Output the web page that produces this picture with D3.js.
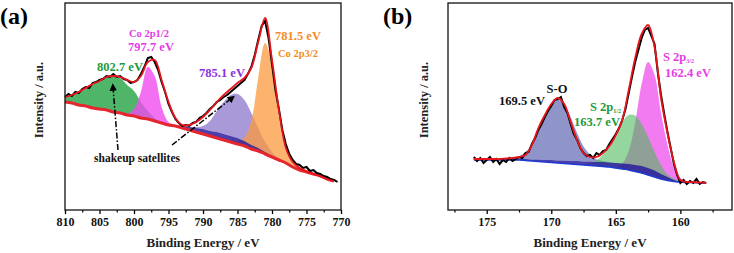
<!DOCTYPE html>
<html>
<head>
<meta charset="utf-8">
<script src="https://cdn.jsdelivr.net/npm/d3@7"></script>
<style>
  body { margin: 0; background: #fff; }
  text { font-family: "Liberation Serif", "Times New Roman", serif; font-weight: bold; }
</style>
</head>
<body>
<svg id="chart" width="734" height="253"></svg>
<script>
// ---------- panel (a) : Co 2p ----------
const energyA = d3.range(810, 770.5, -1);          // fit grid, eV
const bgA      = [108,107,105,104,102,101,100,98,97,95, 94,92,91,89,87,85,84,82,80,78, 76,74,72,70,68,66,64,61,59,56, 53,50,47,43,40,38,36,34,31,29];
const bandA    = [108,107,105,104,102,101,100,98,97,95, 94,92,91,89,87,85,85,84,83,82, 81,79,78,76,74,72,69,65,62,58, 54,50,47,43,40,38,36,34,31,29];
const greenA   = [5,8,12,17,23,29,34,36,35,30, 25,16,8,3,1,0,0,0,0,0, 0,0,0,0,0,0,0,0,0,0, 0,0,0,0,0,0,0,0,0,0];
const magentaA = [0,0,0,0,0,0,0,0,0,1, 7,26,52,45,16,3,1,0,0,0, 0,0,0,0,0,0,0,0,0,0, 0,0,0,0,0,0,0,0,0,0];
const purpleA  = [0,0,0,0,0,0,0,0,0,0, 0,0,0,0,0,0,0,0,0,1, 3,10,21,32,41,44,41,32,20,10, 4,1,0,0,0,0,0,0,0,0];
const orangeA  = [0,0,0,0,0,0,0,0,0,0, 0,0,0,0,0,0,0,0,0,0, 0,0,0,0,2,3,8,28,73,111, 93,43,12,4,1,0,0,0,0,0];
const envA     = [113,115,118,122,126,129,133,134,133,130, 128,134,148,150,130,108,92,85,85,88, 93,100,108,115,121,127,132,142,168,192, 150,100,62,48,42,39,36,34,31,29];
const dataEnergyA = d3.range(810, 770.25, -0.5);
const dataA = [113,116,114,118,117,121,123,122,127,128, 130,131,134,133,136,133,134,131,130,127,
               128,130,136,143,152,153,148,140,128,118, 106,98,91,87,84,85,84,87,88,92,
               94,97,101,104,108,110,113,115,118,121, 124,127,130,136,143,155,170,184,189,172,
               146,120,101,80,66,56,50,46,45,42, 43,39,40,37,36,34,33,31,30,28];
const ticksA = [810, 805, 800, 795, 790, 785, 780, 775, 770];
const minorA = [807.5, 802.5, 797.5, 792.5, 787.5, 782.5, 777.5, 772.5];

// ---------- panel (b) : S 2p ----------
const energyB = d3.range(176, 157.75, -0.5);
const bgB      = [50,50,50,50,50,50,50,50,49.5,49,48.5,48,47.5,47,46.5,46,45.5,45,44.5,44,43.5,43,42,41,40,38.5,37,35,33,31,29.5,28.5,28,27.5,27.5,27,27];
const bandB    = [51,51,51,51,51,51,51,51,51,50.5,50.5,50,50,49.5,49.5,49,49,48.5,48.5,48,48,47.5,47,46.5,46,45,44,42,39.5,36,33,30,28.5,28,27.5,27,27];
const soB      = [0,0,0,0,0,0.3,0.9,2.7,7,15,28,44,56,61,56,44,28,15,7,2.7,0.9,0.3,0,0,0,0,0,0,0,0,0,0,0,0,0,0,0];
const greenB   = [0,0,0,0,0,0,0,0,0,0,0,0,0,0,0,0,0.2,0.8,2.3,5.6,12,22,35,47,55,56,49,38,25,14,6,3,1,0.3,0,0,0];
const magentaB = [0,0,0,0,0,0,0,0,0,0,0,0,0,0,0,0,0,0,0,0,0,0,1,5.5,19,49,89,113,102,66,36,14,4,1,0,0,0];
const envB     = [51,51,51,51,51,51.5,52,53,55,65,82,95,106,112,106,88,70,57,53,53,57,64,75,90,120,152,176,185,163,112,77,48,30,28,28,27.5,27];
const dataEnergyB = d3.range(176, 157.9, -0.25);
const dataB = [53,49,52,47,50,53,48,51,46,50, 48,52,49,51,53,52,57,58,66,72,
               80,86,93,99,104,110,111,113,103,97, 86,76,70,62,57,54,55,52,57,55,
               59,60,66,71,76,82,90,101,117,133, 148,160,172,180,182,174,166,138,115,96,
               78,62,46,35,27,30,26,29,27,31, 26,28,27];
const ticksB = [175, 170, 165, 160];
const minorB = [177.5, 172.5, 167.5, 162.5, 157.5];

const svg = d3.select("#chart");
const plotTop = 3, plotBottom = 210;

function frame(x0, x1, domain, ticks, minor) {
    const x = d3.scaleLinear().domain(domain).range([x0, x1]);
    const y = d3.scaleLinear().domain([0, 207]).range([plotBottom, plotTop]);
    const ax = svg.append("g").attr("transform", `translate(0,${plotBottom})`)
        .call(d3.axisBottom(x).tickValues(ticks).tickSize(4).tickPadding(3).tickSizeOuter(0));
    ax.select(".domain").remove();
    ax.selectAll("line").attr("stroke-width", 1.3);
    ax.selectAll("text").style("font-size", "12px").attr("fill", "#111");
    const mx = svg.append("g").attr("transform", `translate(0,${plotBottom})`)
        .call(d3.axisBottom(x).tickValues(minor).tickSize(2.5).tickFormat(""));
    mx.select(".domain").remove();
    mx.selectAll("line").attr("stroke-width", 1.2);
    return { x, y };
}

function marks(s, energy, bg, band, comps) {
    const g = svg.append("g");
    comps.forEach(c => {
        const base = c.base;
        g.append("path")
            .datum(energy.map((e, i) => [e, base[i], base[i] + c.h[i]]))
            .attr("fill", c.color).attr("fill-opacity", c.op)
            .attr("d", d3.area().x(d => s.x(d[0])).y0(d => s.y(d[1])).y1(d => s.y(d[2])).curve(d3.curveCatmullRom));
    });
    // background band
    g.append("path")
        .datum(energy.map((e, i) => [e, bg[i], band[i]]))
        .attr("fill", "#2a1c9c").attr("fill-opacity", 0.85)
        .attr("d", d3.area().x(d => s.x(d[0])).y0(d => s.y(d[1])).y1(d => s.y(d[2])).curve(d3.curveCatmullRom));
    return g;
}

// ---------- draw (a) ----------
const sa = frame(65, 341, [810, 770], ticksA, minorA);
const ga = marks(sa, energyA, bgA, bandA, [
    { h: greenA,   base: bgA,   color: "#2fa84f", op: 0.85 },
    { h: magentaA, base: bgA,   color: "#f04cf0", op: 0.8 },
    { h: purpleA,  base: bandA, color: "#9580cf", op: 0.8 },
    { h: orangeA,  base: bgA,   color: "#f99a3c", op: 0.75 }
]);
const lineA = d3.line().x((d, i) => sa.x(energyA[i])).y(d => sa.y(d)).curve(d3.curveCatmullRom);
ga.append("path").datum(bgA).attr("fill", "none").attr("stroke", "#e5262e").attr("stroke-width", 3).attr("d", lineA);
ga.append("path").datum(dataA).attr("fill", "none").attr("stroke", "#000").attr("stroke-width", 2)
    .attr("d", d3.line().x((d, i) => sa.x(dataEnergyA[i])).y(d => sa.y(d)));
ga.append("path").datum(envA).attr("fill", "none").attr("stroke", "#e8141c").attr("stroke-width", 1.8).attr("d", lineA);

// ---------- draw (b) ----------
const sb = frame(448, 732, [178, 156], ticksB, minorB);
const gb = marks(sb, energyB, bgB, bandB, [
    { h: soB,      base: bandB, color: "#7c82c0", op: 0.85 },
    { h: magentaB, base: bgB,   color: "#f064ee", op: 0.85 },
    { h: greenB,   base: bgB,   color: "#4cba5c", op: 0.6 }
]);
const lineB = d3.line().x((d, i) => sb.x(energyB[i])).y(d => sb.y(d)).curve(d3.curveCatmullRom);
gb.append("path").datum(bgB).attr("fill", "none").attr("stroke", "#1f3ad0").attr("stroke-width", 1.6).attr("d", lineB);
gb.append("path").datum(dataB).attr("fill", "none").attr("stroke", "#000").attr("stroke-width", 2)
    .attr("d", d3.line().x((d, i) => sb.x(dataEnergyB[i])).y(d => sb.y(d)));
gb.append("path").datum(envB).attr("fill", "none").attr("stroke", "#e8141c").attr("stroke-width", 1.8).attr("d", lineB);

// frames
[[65, 341], [448, 732]].forEach(([a, b]) => {
    svg.append("rect").attr("x", a).attr("y", plotTop).attr("width", b - a).attr("height", plotBottom - plotTop)
        .attr("fill", "none").attr("stroke", "#111").attr("stroke-width", 1.3);
});

// axis titles
[[203, 43], [590, 428]].forEach(([cx, ly]) => {
    svg.append("text").attr("x", cx).attr("y", 247).attr("text-anchor", "middle")
        .style("font-size", "13px").attr("fill", "#222").text("Binding Energy / eV");
    svg.append("text").attr("transform", `translate(${ly},100) rotate(-90)`).attr("text-anchor", "middle")
        .style("font-size", "12.5px").attr("fill", "#222").text("Intensity / a.u.");
});
svg.append("text").attr("x", 0).attr("y", 24).style("font-size", "24px").text("(a)");
svg.append("text").attr("x", 383).attr("y", 24).style("font-size", "24px").text("(b)");

// peak labels (a)
function label(x, y, txt, color, size) {
    return svg.append("text").attr("x", x).attr("y", y).attr("text-anchor", "middle")
        .style("font-size", size + "px").attr("fill", color).text(txt);
}
label(149, 37, "Co 2p1/2", "#e63ce6", 10.5);
label(151, 51, "797.7 eV", "#e63ce6", 12.5);
label(120, 71, "802.7 eV", "#1c9a3c", 12.5);
label(222, 77, "785.1 eV", "#8a32e0", 12.5);
label(298, 40, "781.5 eV", "#f28c22", 12.5);
label(298, 57, "Co 2p3/2", "#f28c22", 10.5);
label(137, 162, "shakeup satellites", "#111", 11.5);

// dash-dot arrows
svg.append("defs").append("marker").attr("id", "ah").attr("viewBox", "0 0 10 10")
    .attr("refX", 5).attr("refY", 5).attr("markerWidth", 5).attr("markerHeight", 5).attr("orient", "auto")
    .append("path").attr("d", "M0,0 L10,5 L0,10 z").attr("fill", "#000");
[[118, 150, 113, 87], [172, 145, 232, 98]].forEach(([x1, y1, x2, y2]) => {
    svg.append("line").attr("x1", x1).attr("y1", y1).attr("x2", x2).attr("y2", y2)
        .attr("stroke", "#000").attr("stroke-width", 1.5).attr("stroke-dasharray", "6,2,1.5,2")
        .attr("marker-end", "url(#ah)");
});

// peak labels (b)
label(557, 93, "S-O", "#111", 12.5);
label(522, 105, "169.5 eV", "#111", 12.5);
const s12 = svg.append("text").attr("x", 590).attr("y", 111).attr("fill", "#1c9a3c").style("font-size", "12.5px");
s12.append("tspan").text("S 2p");
s12.append("tspan").attr("dy", 1.5).style("font-size", "6px").text("1/2");
label(597, 126, "163.7 eV", "#1c9a3c", 12.5);
const s32 = svg.append("text").attr("x", 663).attr("y", 61).attr("fill", "#e63ce6").style("font-size", "12.5px");
s32.append("tspan").text("S 2p");
s32.append("tspan").attr("dy", 1.5).style("font-size", "6px").text("3/2");
label(688, 77, "162.4 eV", "#e63ce6", 12.5);
</script>
</body>
</html>
